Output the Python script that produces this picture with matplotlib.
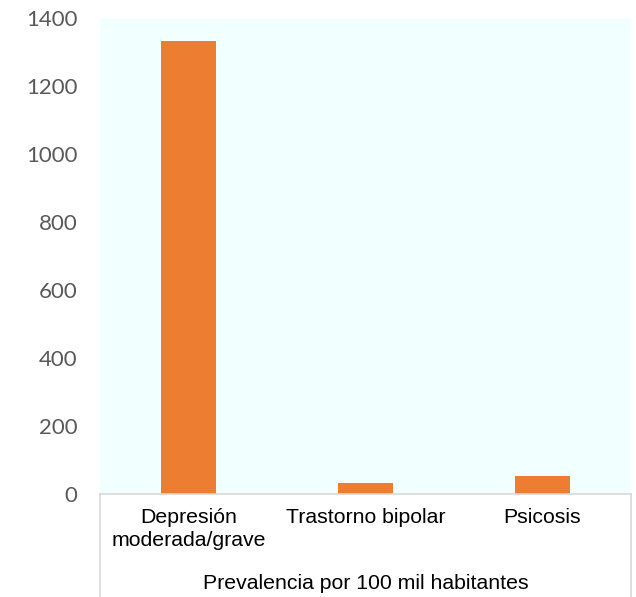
import matplotlib
matplotlib.use("Agg")
import matplotlib.pyplot as plt
import numpy as np

categories = ["Depresión\nmoderada/grave", "Trastorno bipolar", "Psicosis"]
values = [1332, 31, 53]
group_label = "Prevalencia por 100 mil habitantes"
yticks = [0, 200, 400, 600, 800, 1000, 1200, 1400]

fig = plt.figure(figsize=(6.36, 5.97), dpi=100)
ax = fig.add_axes([0.157, 0.1725, 0.835, 0.7975])
ax.set_facecolor("#F2FFFF")

x = np.arange(len(categories))
ax.bar(x, values, width=0.31, color="#ED7D31")
ax.set_xlim(-0.5, len(categories) - 0.5)
ax.set_ylim(0, 1400)

ax.set_yticks(yticks)
ax.set_yticklabels([str(v) for v in yticks], fontsize=16, color="#595959",
                   family=["Lato", "DejaVu Sans"])
ax.tick_params(axis="y", length=0, pad=16)
ax.set_xticks([])

for s in ["left", "right", "top"]:
    ax.spines[s].set_visible(False)
ax.spines["bottom"].set_color("#D9D9D9")
ax.spines["bottom"].set_linewidth(1.2)

# category labels under the axis, boxed like the spreadsheet layout
for i, lab in enumerate(categories):
    ax.text(i, -0.03, lab, transform=ax.get_xaxis_transform(), ha="center",
            va="top", fontsize=15.3, family=["Liberation Sans", "DejaVu Sans"],
            linespacing=1.22)
ax.text(0.5, -0.187, group_label, transform=ax.transAxes, ha="center",
        va="center", fontsize=15.3, family=["Liberation Sans", "DejaVu Sans"])

for xa in [0, 1]:
    ax.plot([xa, xa], [0, -0.217], transform=ax.transAxes, color="#D9D9D9",
            lw=1.2, clip_on=False)

fig.savefig("out.png", dpi=100)
